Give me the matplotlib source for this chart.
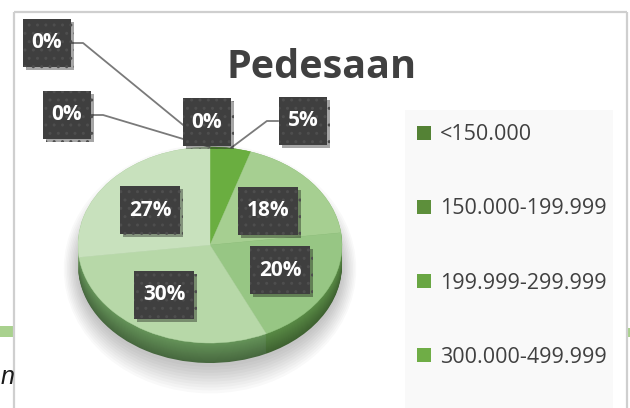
import numpy as np
import matplotlib
matplotlib.use("Agg")
import matplotlib.pyplot as plt
from matplotlib.patches import Rectangle, Ellipse
from matplotlib.path import Path
from matplotlib import patheffects
import matplotlib.colors as mcolors

# ---------------- data ----------------
chart_title = "Pedesaan"
shares = [0, 0, 0, 5, 18, 20, 30, 27]          # percent of households per income class
legend_labels = ["<150.000", "150.000-199.999", "199.999-299.999", "300.000-499.999"]

# ---------------- style ----------------
top_colors = ["#548235", "#5d8f3b", "#69a643", "#6aae40",
              "#a6cf91", "#97c684", "#b7d8a8", "#c8e1bd"]
side_colors = ["#4a7530", "#4f8034", "#5a923a", "#528c30",
               "#6c9e57", "#5a8c46", "#66955a", "#86ad77"]
legend_colors = ["#548235", "#5d8f3b", "#69a643", "#6fad46"]
text_dark = "#404040"
font = "Open Sans"

W, H = 630, 408
fig = plt.figure(figsize=(W / 100, H / 100), dpi=100)
fig.patch.set_facecolor("white")

# overlay axes in pixel units (y downwards) for frame, labels and legend
over = fig.add_axes([0, 0, 1, 1], zorder=3)
over.set_xlim(0, W)
over.set_ylim(H, 0)
over.axis("off")
over.patch.set_visible(False)

# ---------------- 3D pie ----------------
cx, cy, rx, ry, depth = 210, 245, 132, 98, 20
d = depth / ry
pie_ax = fig.add_axes([(cx - rx) / W, (H - (cy + ry + depth)) / H,
                       2 * rx / W, (2 * ry + depth) / H], zorder=2)

# soft shadow under the pie
for k in range(10):
    sh = Ellipse((0, -d - 0.04), 2 * (1.0 + 0.012 * k), 2 * (1.0 + 0.03 * k),
                 facecolor="black", alpha=0.025, edgecolor="none", clip_on=False)
    pie_ax.add_patch(sh)

# extruded side built up from stacked layers, darker towards the bottom
n_layers = 22
for j in range(n_layers):
    t = 1 - j / (n_layers - 1)
    f = 0.70 + 0.30 * (1 - t)
    cols = [tuple(np.clip(np.array(mcolors.to_rgb(c)) * f, 0, 1)) for c in side_colors]
    wl, _ = pie_ax.pie(shares, colors=cols, startangle=90, counterclock=False,
                       center=(0, -d * t), radius=1.0,
                       wedgeprops=dict(linewidth=0, antialiased=True))
    for w in wl:
        w.set_clip_on(False)

wedges, _ = pie_ax.pie(shares, colors=top_colors, startangle=90, counterclock=False,
                       center=(0, 0), radius=1.0,
                       wedgeprops=dict(linewidth=0.3, antialiased=True))
for w, c in zip(wedges, top_colors):
    w.set_edgecolor(c)
    w.set_clip_on(False)

pie_ax.set_aspect("auto")
pie_ax.set_xlim(-1, 1)
pie_ax.set_ylim(-1 - d, 1)
pie_ax.axis("off")

# ---------------- chart frame and neighbouring page bits ----------------
frame_c = "#cfcfcf"
over.plot([14, 14], [12, H], color=frame_c, lw=1.6, solid_capstyle="butt")
over.plot([14, 627], [12, 12], color=frame_c, lw=1.6, solid_capstyle="butt")
over.plot([627, 627], [12, H], color=frame_c, lw=1.6, solid_capstyle="butt")
over.add_patch(Rectangle((0, 326), 13, 11, facecolor="#a9d18e", edgecolor="none"))
over.add_patch(Rectangle((628, 328), 2, 9, facecolor="#a9d18e", edgecolor="none"))
over.text(0.5, 384, "n", ha="left", va="baseline", fontsize=18, style="italic",
          color="#1a1a1a", family="Liberation Sans")

# ---------------- title ----------------
over.text(322, 78, chart_title, ha="center", va="baseline", fontsize=28.5,
          fontweight="bold", color=text_dark, family=font)

# ---------------- legend ----------------
over.add_patch(Rectangle((405, 110), 208, 300, facecolor="#f9f9f9", edgecolor="none"))
for i, (lab, col) in enumerate(zip(legend_labels, legend_colors)):
    yc = 132.5 + i * 74.3
    over.add_patch(Rectangle((417, yc - 7), 14, 14, facecolor=col, edgecolor="none"))
    over.text(440, yc + 7.5, lab, ha="left", va="baseline", fontsize=15.5,
              color=text_dark, family=font)

# ---------------- data labels ----------------
def label_box(x0, y0, width, height, mutation_size):
    px, py = 0.42 * mutation_size, 0.66 * mutation_size
    verts = [(x0 - px, y0 - py), (x0 + width + px, y0 - py),
             (x0 + width + px, y0 + height + py), (x0 - px, y0 + height + py),
             (x0 - px, y0 - py)]
    return Path(verts, closed=True)

label_xy = [(47, 43), (67, 115), (207, 122), (303, 121),
            (268, 211), (280, 270), (164, 295), (150, 210)]
leader = [True, True, False, True, False, False, False, False]

label_texts = []
for v, (lx, ly) in zip(shares, label_xy):
    t = over.text(lx, ly, f"{v}%", ha="center", va="center", fontsize=15,
                  fontweight="bold", color="white", family=font, zorder=6,
                  bbox=dict(boxstyle=label_box, facecolor="#3f3f3f",
                            edgecolor="#4e4e4e", linewidth=0, hatch=".."))
    t.get_bbox_patch().set_path_effects([
        patheffects.SimplePatchShadow(offset=(2, -2), shadow_rgbFace="black", alpha=0.35),
        patheffects.Normal()])
    label_texts.append(t)

fig.canvas.draw()
to_over = over.transData.inverted()
cum = np.cumsum([0] + shares[:-1])
for i, (v, start) in enumerate(zip(shares, cum)):
    if not leader[i]:
        continue
    theta = np.deg2rad((start + v / 2) / sum(shares) * 360.0)
    ax_pt = pie_ax.transData.transform((np.sin(theta), np.cos(theta)))
    axx, axy = to_over.transform(ax_pt)
    bb = label_texts[i].get_bbox_patch().get_window_extent()
    (bx0, by0), (bx1, by1) = to_over.transform([[bb.x0, bb.y0], [bb.x1, bb.y1]])
    ly = label_xy[i][1]
    if axx > label_xy[i][0]:
        ex, kx = max(bx0, bx1), max(bx0, bx1) + 12
    else:
        ex, kx = min(bx0, bx1), min(bx0, bx1) - 12
    over.plot([ex, kx, axx], [ly, ly, axy], color="#7a7a7a", lw=1.3, zorder=5,
              solid_capstyle="butt")

fig.savefig("out.png", dpi=100, facecolor="white")
